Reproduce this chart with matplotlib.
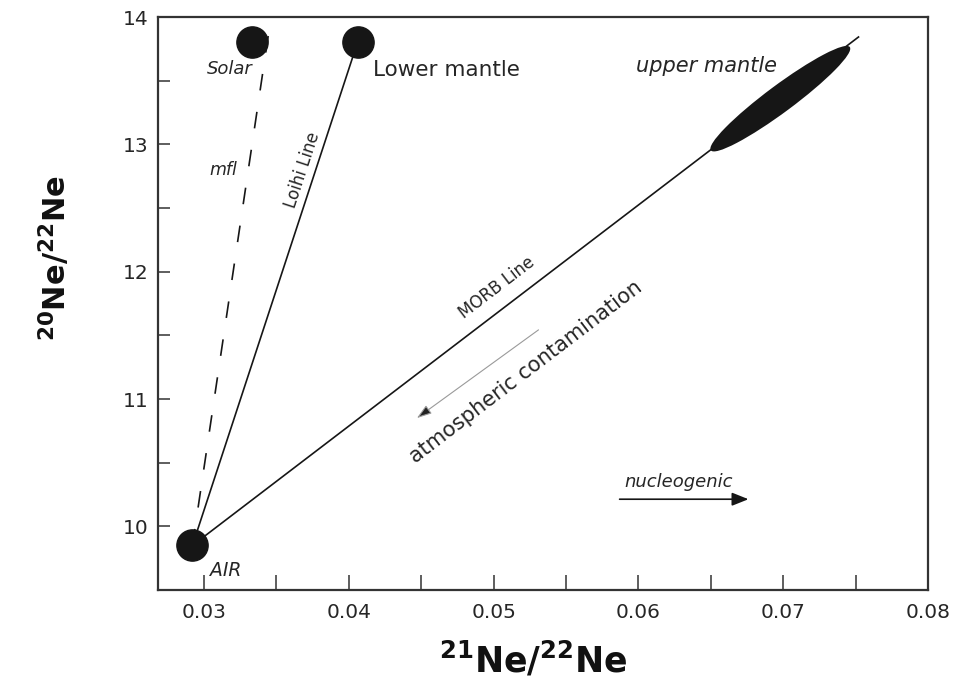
import matplotlib
matplotlib.use("Agg")
import matplotlib.pyplot as plt
from matplotlib.patches import Ellipse
from matplotlib.transforms import IdentityTransform
import numpy as np

plt.rcParams['font.family'] = ['DejaVu Sans']

# ---- data (21Ne/22Ne, 20Ne/22Ne) ----
air = (0.0292, 9.85)
solar = (0.0333, 13.80)
lower_mantle = (0.0406, 13.80)
mfl_end = (0.0346, 13.98)
morb_end = (0.0752, 13.843)
upper_mantle_lo = (0.0650, 12.953)
upper_mantle_hi = (0.0746, 13.764)
atm_start = (0.0531, 11.543)
atm_end = (0.0447, 10.850)
nuc_start = (0.0587, 10.213)
nuc_end = (0.0676, 10.213)

xlim = (0.02682, 0.08)
ylim = (9.5, 14.0)
xticks = [0.03, 0.04, 0.05, 0.06, 0.07, 0.08]
xtick_labels = ['0.03', '0.04', '0.05', '0.06', '0.07', '0.08']
xminor = [0.035, 0.045, 0.055, 0.065, 0.075]
yticks = [10, 11, 12, 13, 14]
ytick_labels = ['10', '11', '12', '13', '14']
yminor = [10.5, 11.5, 12.5, 13.5]

labels = {
    'Solar': (0.03179, 13.59),
    'mfl': (0.03131, 12.80),
    'Loihi Line': (0.03677, 12.795),
    'Lower mantle': (0.04672, 13.583),
    'upper mantle': (0.06468, 13.614),
    'MORB Line': (0.05024, 11.874),
    'atmospheric contamination': (0.05224, 11.213),
    'nucleogenic': (0.06281, 10.346),
    'AIR': (0.03152, 9.654),
}

DARK = '#161616'
TXT = '#262626'

fig = plt.figure(figsize=(9.65, 6.86), dpi=100)
ax = fig.add_axes([158 / 965, 1 - 590 / 686, 770 / 965, 573 / 686])
ax.set_xlim(*xlim)
ax.set_ylim(*ylim)

# lines
ax.plot([air[0], mfl_end[0]], [air[1], mfl_end[1]], color=DARK, lw=1.2,
        dashes=(10, 13), zorder=2)
ax.plot([air[0], lower_mantle[0]], [air[1], lower_mantle[1]], color=DARK,
        lw=1.2, zorder=2)
ax.plot([air[0], morb_end[0]], [air[1], morb_end[1]], color=DARK, lw=1.2,
        zorder=2)

# end-member circles
for p in (air, solar, lower_mantle):
    ax.plot([p[0]], [p[1]], 'o', ms=22.5, color=DARK, mec=DARK, zorder=5)

# upper mantle ellipse (drawn in display space so it is a true rotated ellipse)
p0 = ax.transData.transform(upper_mantle_lo)
p1 = ax.transData.transform(upper_mantle_hi)
cen = (p0 + p1) / 2
length = np.hypot(*(p1 - p0))
ang = np.degrees(np.arctan2(p1[1] - p0[1], p1[0] - p0[0]))
ell = Ellipse(cen, length, 27, angle=ang, transform=IdentityTransform(),
              fc=DARK, ec='none', zorder=4)
ax.add_patch(ell)
ax.set_xlim(*xlim)
ax.set_ylim(*ylim)

# arrows
ax.annotate('', xy=atm_end, xytext=atm_start,
            arrowprops=dict(arrowstyle='-|>,head_length=0.9,head_width=0.3',
                            edgecolor='#9a9a9a', facecolor='#222222', lw=0.8,
                            mutation_scale=10, shrinkA=0, shrinkB=0))
ax.annotate('', xy=nuc_end, xytext=nuc_start,
            arrowprops=dict(arrowstyle='-|>,head_length=1.0,head_width=0.4',
                            color=DARK, lw=1.2,
                            mutation_scale=10, shrinkA=0, shrinkB=0))

# rotation angles following lines in display space
def disp_angle(a, b):
    pa = ax.transData.transform(a)
    pb = ax.transData.transform(b)
    return np.degrees(np.arctan2(pb[1] - pa[1], pb[0] - pa[0]))

loihi_ang = disp_angle(air, lower_mantle)
morb_ang = disp_angle(air, morb_end)

txt_kw = dict(ha='center', va='center', color=TXT)
ax.text(*labels['Solar'], 'Solar', fontsize=13, style='italic', **txt_kw)
ax.text(*labels['mfl'], 'mfl', fontsize=12.5, style='italic', **txt_kw)
ax.text(*labels['Loihi Line'], 'Loihi Line', fontsize=12, rotation=loihi_ang,
        rotation_mode='anchor', **txt_kw)
ax.text(*labels['Lower mantle'], 'Lower mantle', fontsize=15.5, **txt_kw)
ax.text(*labels['upper mantle'], 'upper mantle', fontsize=15, style='italic',
        **txt_kw)
ax.text(*labels['MORB Line'], 'MORB Line', fontsize=12, rotation=morb_ang,
        rotation_mode='anchor', **txt_kw)
ax.text(*labels['atmospheric contamination'], 'atmospheric contamination',
        fontsize=15, rotation=morb_ang, rotation_mode='anchor', **txt_kw)
ax.text(*labels['nucleogenic'], 'nucleogenic', fontsize=13, style='italic',
        **txt_kw)
ax.text(*labels['AIR'], 'AIR', fontsize=13.5, style='italic', **txt_kw)

# axes styling
ax.set_xticks(xticks)
ax.set_xticklabels(xtick_labels)
ax.set_xticks(xminor, minor=True)
ax.set_yticks(yticks)
ax.set_yticklabels(ytick_labels)
ax.set_yticks(yminor, minor=True)
ax.tick_params(axis='x', which='both', direction='in', length=11, width=1.1,
               color='#333333', pad=9, labelsize=14.5, labelcolor=TXT)
ax.tick_params(axis='y', which='both', direction='in', length=8.5, width=1.1,
               color='#333333', pad=7, labelsize=14.5, labelcolor=TXT)
for s in ax.spines.values():
    s.set_linewidth(1.6)
    s.set_color('#333333')

ax.set_xlabel(r'$^{\mathbf{21}}$Ne/$^{\mathbf{22}}$Ne', fontsize=25,
              fontweight='bold', color='#111111', va='center')
ax.xaxis.set_label_coords((533 - 158) / 770, -(660 - 590) / 573)
ax.set_ylabel(r'$^{\mathbf{20}}$Ne/$^{\mathbf{22}}$Ne', fontsize=22,
              fontweight='bold', color='#111111', va='center', ha='center')
ax.yaxis.set_label_coords((55 - 158) / 770, (590 - 258) / 573)

fig.savefig('out.png', dpi=100)
